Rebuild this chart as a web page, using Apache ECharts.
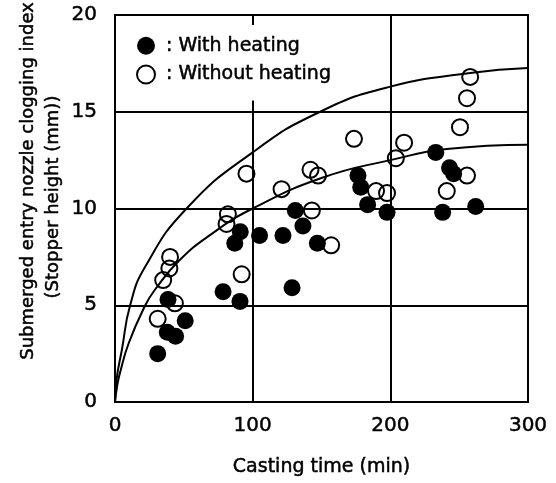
<!DOCTYPE html>
<html>
<head>
<meta charset="utf-8">
<script src="https://cdn.jsdelivr.net/npm/echarts@6/dist/echarts.min.js"></script>
<style>
  html, body { margin: 0; padding: 0; background: #fff; }
  #chart { width: 556px; height: 483px; }
</style>
</head>
<body>
<div id="chart"></div>
<script>
// tick values
const xTicks = [0, 100, 200, 300];
const yTicks = [0, 5, 10, 15, 20];

// with heating (filled circles)
const heatX = [31, 38, 44, 51, 38.5, 78.5, 90.8, 87, 91, 105, 122, 131, 136.5, 147, 128.6, 176.5, 178.5, 183.5, 197.6, 233, 243, 246, 238, 262];
const heatY = [2.5, 3.6, 3.4, 4.2, 5.3, 5.7, 5.2, 8.2, 8.8, 8.6, 8.6, 9.9, 9.1, 8.2, 5.9, 11.7, 11.1, 10.2, 9.8, 12.9, 12.1, 11.8, 9.8, 10.1];

// without heating (open circles)
const noHeatX = [31, 43.5, 35, 39.5, 40, 81, 82, 92, 95.5, 121, 143, 142, 147.5, 157, 173.6, 189.6, 197.6, 204, 210, 241, 250.6, 255.7, 255.7, 258];
const noHeatY = [4.3, 5.1, 6.3, 6.9, 7.5, 9.2, 9.7, 6.6, 11.8, 11.0, 9.9, 12.0, 11.7, 8.1, 13.6, 10.9, 10.8, 12.6, 13.4, 10.9, 14.2, 11.7, 15.7, 16.8];

// fitted curves
const upperX = [0, 1.2, 5, 11, 22, 52, 100, 149, 200, 258, 300];
const upperY = [0, 1.2, 2.7, 5, 7, 10, 12.9, 15, 16.3, 17.0, 17.26];
const lowerX = [0, 1.5, 3.6, 10, 22, 29, 46.5, 70.5, 100, 151, 200, 241, 300];
const lowerY = [0, 0.8, 1.5, 3.05, 5, 5.8, 7.3, 8.7, 10, 11.6, 12.5, 13.07, 13.3];

const zip = (xs, ys) => xs.map((x, i) => [x, ys[i]]);

const FONT = "DejaVu Sans";
// scanned text in the original is heavy, thicken strokes a little
const heavy = { textBorderColor: "#000", textBorderWidth: 0.5 };

const chart = echarts.init(document.getElementById("chart"), null, { renderer: "canvas" });

chart.setOption({
  backgroundColor: "#fff",
  animation: false,
  textStyle: { fontFamily: FONT, color: "#000" },
  grid: {
    left: 115, right: 28, top: 15, bottom: 81,
    show: true, borderColor: "#000", borderWidth: 2
  },
  legend: {
    data: [": With heating", ": Without heating"],
    orient: "vertical",
    left: 128, top: 25,
    padding: [11, 10, 16, 8],
    backgroundColor: "#fff",
    itemWidth: 18, itemHeight: 18, itemGap: 9,
    textStyle: { fontFamily: FONT, fontSize: 19, color: "#000", padding: [0, 0, 0, 6], ...heavy }
  },
  xAxis: {
    type: "value",
    min: xTicks[0], max: xTicks[xTicks.length - 1], interval: 100,
    name: "Casting time (min)",
    nameLocation: "middle", nameGap: 56,
    nameTextStyle: { fontFamily: FONT, fontSize: 19, color: "#000", ...heavy },
    axisLine: { show: false },
    axisTick: { show: false },
    axisLabel: { fontFamily: FONT, fontSize: 20, color: "#000", margin: 14, ...heavy },
    splitLine: { lineStyle: { color: "#000", width: 2 } }
  },
  yAxis: {
    type: "value",
    min: yTicks[0], max: yTicks[yTicks.length - 1], interval: 5,
    axisLine: { show: false },
    axisTick: { show: false },
    axisLabel: { fontFamily: FONT, fontSize: 20, color: "#000", margin: 18, ...heavy },
    splitLine: { lineStyle: { color: "#000", width: 2 } }
  },
  graphic: [
    {
      type: "text", x: 28, y: 181, rotation: Math.PI / 2,
      style: {
        text: "Submerged entry nozzle clogging index", font: "18px '" + FONT + "'",
        fill: "#000", stroke: "#000", lineWidth: 0.5, align: "center", verticalAlign: "middle"
      }
    },
    {
      type: "text", x: 53, y: 197, rotation: Math.PI / 2,
      style: {
        text: "(Stopper height (mm))", font: "18px '" + FONT + "'",
        fill: "#000", stroke: "#000", lineWidth: 0.5, align: "center", verticalAlign: "middle"
      }
    }
  ],
  series: [
    {
      type: "line", data: zip(upperX, upperY), smooth: true,
      showSymbol: false, lineStyle: { color: "#000", width: 2 }, z: 2
    },
    {
      type: "line", data: zip(lowerX, lowerY), smooth: true,
      showSymbol: false, lineStyle: { color: "#000", width: 2 }, z: 2
    },
    {
      name: ": With heating", type: "scatter", data: zip(heatX, heatY),
      symbol: "circle", symbolSize: 17,
      itemStyle: { color: "#000", opacity: 1 }, z: 3
    },
    {
      name: ": Without heating", type: "scatter", data: zip(noHeatX, noHeatY),
      symbol: "circle", symbolSize: 16,
      itemStyle: { color: "rgba(255,255,255,0)", borderColor: "#000", borderWidth: 2, opacity: 1 }, z: 4
    }
  ]
});
</script>
</body>
</html>
